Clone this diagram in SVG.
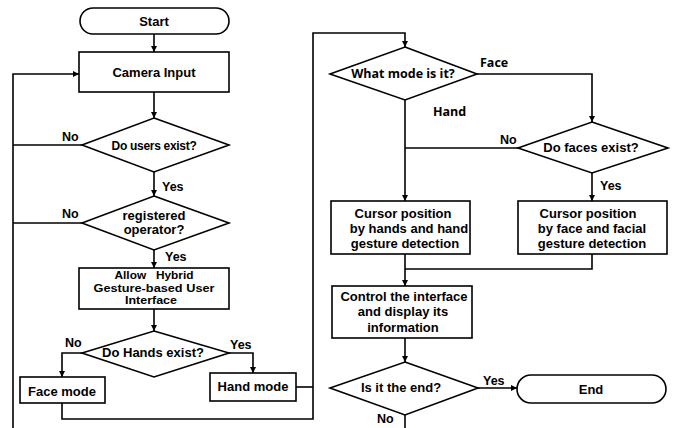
<svg xmlns="http://www.w3.org/2000/svg" width="676" height="428" viewBox="0 0 676 428">
<defs>
<marker id="arr" markerUnits="userSpaceOnUse" markerWidth="7" markerHeight="7" refX="6" refY="3" orient="auto">
<path d="M0,0 L6,3 L0,6 z" fill="#000"/>
</marker>
<style>
.s{fill:#fff;stroke:#000;stroke-width:1.6}
.c{fill:none;stroke:#000;stroke-width:1.6}
.t{font-family:"Liberation Sans",Arial,sans-serif;font-weight:bold;font-size:13px;fill:#000;text-anchor:middle}
.a{font-family:"Liberation Sans",Arial,sans-serif;font-weight:bold;font-size:11px;fill:#000;text-anchor:middle}
.l{font-family:"Liberation Sans",Arial,sans-serif;font-weight:bold;font-size:12.5px;fill:#000}
.o{font-family:"Open Sans","Liberation Sans",sans-serif;font-weight:bold;font-size:12.5px;fill:#000}
</style>
</defs>
<rect width="676" height="428" fill="#fff"/>
<g id="connectors">
<path class="c" d="M154,34 V52" marker-end="url(#arr)"/>
<path class="c" d="M154,92 V118" marker-end="url(#arr)"/>
<path class="c" d="M82,145 H13"/>
<path class="c" d="M82,223 H13"/>
<path class="c" d="M13,428 V74 H79" marker-end="url(#arr)"/>
<path class="c" d="M154,172 V196" marker-end="url(#arr)"/>
<path class="c" d="M154,250 V268" marker-end="url(#arr)"/>
<path class="c" d="M154,309 V331" marker-end="url(#arr)"/>
<path class="c" d="M82,353 H62 V377" marker-end="url(#arr)"/>
<path class="c" d="M229,353 H253 V373" marker-end="url(#arr)"/>
<path class="c" d="M296,387 H313"/>
<path class="c" d="M62,403 V419 H313 V33 H405 V47" marker-end="url(#arr)"/>
<path class="c" d="M477,74 H592 V122" marker-end="url(#arr)"/>
<path class="c" d="M405,100 V201" marker-end="url(#arr)"/>
<path class="c" d="M518,148 H405"/>
<path class="c" d="M592,173 V201" marker-end="url(#arr)"/>
<path class="c" d="M405,254 V286" marker-end="url(#arr)"/>
<path class="c" d="M592,254 V269 H405"/>
<path class="c" d="M405,338 V362" marker-end="url(#arr)"/>
<path class="c" d="M478,388 H517" marker-end="url(#arr)"/>
<path class="c" d="M405,415 V428"/>
<text class="l" x="62" y="141">No</text>
<text class="l" x="162" y="191">Yes</text>
<text class="l" x="62" y="218">No</text>
<text class="l" x="165" y="261">Yes</text>
<text class="l" x="65" y="347">No</text>
<text class="l" x="230" y="349">Yes</text>
<text class="o" x="480" y="67">Face</text>
<text class="o" x="433" y="116">Hand</text>
<text class="l" x="500" y="144">No</text>
<text class="l" x="600" y="190">Yes</text>
<text class="l" x="483" y="385">Yes</text>
<text class="l" x="377" y="423">No</text>
</g>
<g id="start">
<rect class="s" x="80" y="8" width="149" height="26" rx="13"/>
<text class="t" x="154" y="26">Start</text>
</g>
<g id="camera">
<rect class="s" x="79" y="52" width="150" height="40"/>
<text class="t" x="154" y="77">Camera Input</text>
</g>
<g id="users">
<polygon class="s" points="154,118 229,145 154,172 82,145"/>
<text class="t" x="154" y="150" style="font-size:12px;letter-spacing:-0.3px">Do users exist?</text>
</g>
<g id="registered">
<polygon class="s" points="154,196 229,223 154,250 82,223"/>
<text class="t" x="154" y="220">registered</text>
<text class="t" x="154" y="234">operator?</text>
</g>
<g id="allow">
<rect class="s" x="79" y="268" width="150" height="41"/>
<text class="a" x="154" y="279" style="white-space:pre" textLength="79" lengthAdjust="spacingAndGlyphs">Allow   Hybrid</text>
<text class="a" x="154" y="291.7" textLength="121" lengthAdjust="spacingAndGlyphs">Gesture-based User</text>
<text class="a" x="151" y="304.4" textLength="52" lengthAdjust="spacingAndGlyphs">Interface</text>
</g>
<g id="hands">
<polygon class="s" points="154,331 229,353 154,377 82,353"/>
<text class="t" x="153" y="357">Do Hands exist?</text>
</g>
<g id="facemode">
<rect class="s" x="20" y="377" width="85" height="26"/>
<text class="t" x="62" y="396">Face mode</text>
</g>
<g id="handmode">
<rect class="s" x="210" y="373" width="86" height="28"/>
<text class="t" x="253" y="391">Hand mode</text>
</g>
<g id="whatmode">
<polygon class="s" points="405,47 477,74 405,100 330,74"/>
<text class="o" x="403" y="78" text-anchor="middle">What mode is it?</text>
</g>
<g id="faces">
<polygon class="s" points="592,122 668,148 592,173 518,148"/>
<text class="t" x="591" y="152">Do faces exist?</text>
</g>
<g id="cursorhand">
<rect class="s" x="331" y="201" width="139" height="53"/>
<text class="t" x="403" y="218">Cursor position</text>
<text class="t" x="409" y="233">by hands and hand</text>
<text class="t" x="405" y="248">gesture detection</text>
</g>
<g id="cursorface">
<rect class="s" x="518" y="201" width="149" height="53"/>
<text class="t" x="588" y="218">Cursor position</text>
<text class="t" x="592" y="233">by face and facial</text>
<text class="t" x="592" y="248">gesture detection</text>
</g>
<g id="control">
<rect class="s" x="332" y="286" width="140" height="52"/>
<text class="t" x="404" y="301">Control the interface</text>
<text class="t" x="403" y="316">and display its</text>
<text class="t" x="403" y="332">information</text>
</g>
<g id="isend">
<polygon class="s" points="405,362 478,388 405,415 330,388"/>
<text class="t" x="401" y="392">Is it the end?</text>
</g>
<g id="end">
<rect class="s" x="517" y="375" width="149" height="28" rx="14"/>
<text class="t" x="591" y="394">End</text>
</g>
</svg>
